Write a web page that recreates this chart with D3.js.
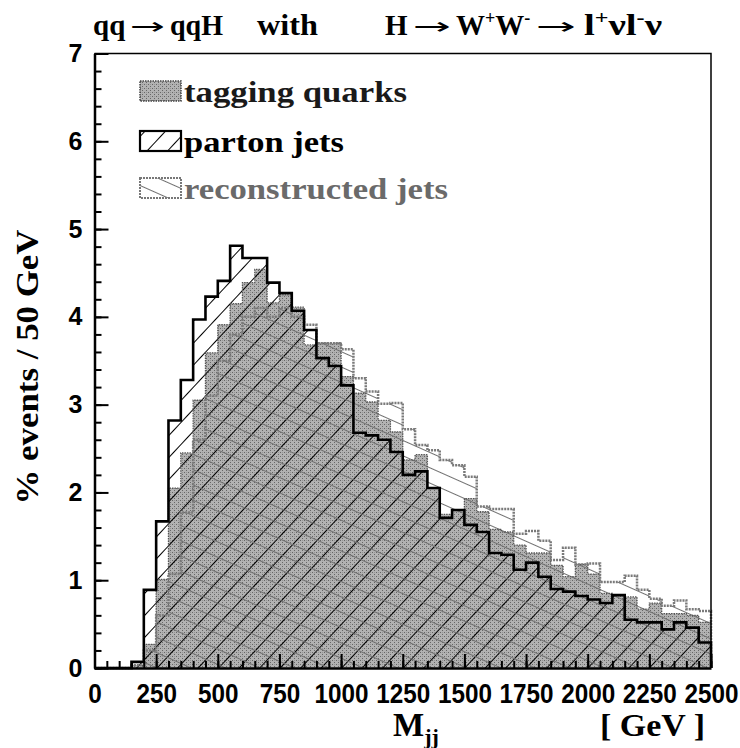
<!DOCTYPE html>
<html><head><meta charset="utf-8">
<script src="https://cdn.jsdelivr.net/npm/d3@7/dist/d3.min.js"></script>
<style>body{margin:0;background:#fff} svg{display:block}</style>
</head><body>
<svg id="c" width="740" height="748"></svg>
<script>
// ---- data (percent of events per 50 GeV bin) ----
const binLow = [0,50,100,150,200,250,300,350,400,450,500,550,600,650,700,750,800,850,900,950,
  1000,1050,1100,1150,1200,1250,1300,1350,1400,1450,1500,1550,1600,1650,1700,1750,1800,1850,1900,1950,
  2000,2050,2100,2150,2200,2250,2300,2350,2400,2450];
const binWidth = 50;
const tagging = [0,0,0,0.03,0.27,1.01,2.05,2.45,3.05,3.59,3.91,4.15,4.39,4.54,4.16,4.25,4.11,3.68,3.70,3.70,
  3.32,3.13,3.03,2.82,2.69,2.37,2.43,2.05,1.75,1.80,1.93,1.78,1.58,1.55,1.40,1.31,1.31,1.17,1.04,1.18,
  1.07,0.85,0.83,0.81,0.67,0.74,0.62,0.62,0.60,0.52];
const parton = [0,0,0,0.07,0.89,1.67,2.82,3.28,3.97,4.23,4.41,4.81,4.67,4.67,4.39,4.27,4.07,3.85,3.53,3.44,
  3.22,2.68,2.65,2.60,2.46,2.20,2.24,2.05,1.71,1.80,1.63,1.55,1.31,1.29,1.12,1.20,1.04,0.90,0.87,0.82,
  0.78,0.74,0.83,0.55,0.52,0.52,0.44,0.52,0.46,0.29];
const reco = [0,0,0,0.03,0.20,0.60,1.07,1.77,2.60,3.10,3.50,3.80,4.00,4.10,4.00,4.10,4.00,3.91,3.70,3.70,
  3.63,3.30,3.15,3.01,3.02,2.72,2.54,2.48,2.37,2.31,2.18,1.84,1.81,1.81,1.53,1.56,1.45,1.23,1.37,1.18,
  1.19,0.98,0.98,1.05,0.89,0.79,0.71,0.77,0.67,0.65];
const xMajor = [0,250,500,750,1000,1250,1500,1750,2000,2250,2500];
const yMajor = [0,1,2,3,4,5,6,7];
const legendLabels = ["tagging quarks","parton jets","reconstructed jets"];

// ---- layout ----
const svg = d3.select("#c");
const X0 = 94.5, X1 = 711, YT = 53.5, YB = 668;
const x = d3.scaleLinear().domain([0,2500]).range([X0,X1]);
const y = d3.scaleLinear().domain([0,7]).range([YB,YT]);

const defs = svg.append("defs");
// stipple gray
const pd = defs.append("pattern").attr("id","dots").attr("patternUnits","userSpaceOnUse")
  .attr("width",4).attr("height",4);
pd.append("rect").attr("width",4).attr("height",4).attr("fill","#b2b2b2");
pd.append("rect").attr("x",0).attr("y",0).attr("width",1).attr("height",1).attr("fill","#666");
pd.append("rect").attr("x",2).attr("y",2).attr("width",1).attr("height",1).attr("fill","#666");
pd.append("rect").attr("x",2).attr("y",0).attr("width",1).attr("height",1).attr("fill","#959595");
// parton hatch  /
const ph = defs.append("pattern").attr("id","hatchP").attr("patternUnits","userSpaceOnUse")
  .attr("width",15).attr("height",15).attr("patternTransform","rotate(-47)");
ph.append("line").attr("x1",0).attr("x2",15).attr("y1",0.5).attr("y2",0.5)
  .attr("stroke","#000").attr("stroke-width",1);
// reco hatch  \ (shallow)
const rh = defs.append("pattern").attr("id","hatchR").attr("patternUnits","userSpaceOnUse")
  .attr("width",14).attr("height",14).attr("patternTransform","rotate(24)");
rh.append("line").attr("x1",0).attr("x2",14).attr("y1",0.5).attr("y2",0.5)
  .attr("stroke","#707070").attr("stroke-width",1);

function stepPoints(vals){
  const pts = [[0,0]];
  vals.forEach((v,i)=>{ pts.push([binLow[i],v]); pts.push([binLow[i]+binWidth,v]); });
  pts.push([2500,0]);
  return pts;
}
const area = d3.area().x(d=>x(d[0])).y0(y(0)).y1(d=>y(d[1]));
const line = d3.line().x(d=>x(d[0])).y(d=>y(d[1]));

const g = svg.append("g");
g.append("path").attr("d",area(stepPoints(tagging))).attr("fill","url(#dots)");
g.append("path").attr("d",area(stepPoints(parton))).attr("fill","url(#hatchP)");
g.append("path").attr("d",area(stepPoints(reco))).attr("fill","url(#hatchR)");
g.append("path").attr("d",line(stepPoints(tagging))).attr("fill","none")
  .attr("stroke","#555").attr("stroke-width",1.3).attr("stroke-dasharray","1.5,1");
g.append("path").attr("d",line(stepPoints(reco))).attr("fill","none")
  .attr("stroke","#7a7a7a").attr("stroke-width",2.5).attr("stroke-dasharray","2,1");
g.append("path").attr("d",line(stepPoints(parton))).attr("fill","none")
  .attr("stroke","#000").attr("stroke-width",2.6);

// frame
svg.append("path").attr("d",`M${X0},${YT}H${X1}V${YB}`).attr("fill","none")
  .attr("stroke","#000").attr("stroke-width",1.5);

// axes
const xMinor = binLow.concat([2500]);
svg.append("g").attr("transform",`translate(0,${YB})`)
  .call(d3.axisBottom(x).tickValues(xMinor).tickSizeInner(-7).tickSizeOuter(0).tickFormat(""))
  .call(a=>{a.select(".domain").remove(); a.selectAll("line").attr("stroke-width",2);});
svg.append("g").attr("transform",`translate(0,${YB})`)
  .call(d3.axisBottom(x).tickValues(xMajor).tickSizeInner(-14).tickSizeOuter(0).tickPadding(16).tickFormat(d3.format("d")))
  .call(a=>{
    a.select(".domain").attr("stroke-width",2.5);
    a.selectAll("line").attr("stroke-width",2);
    a.selectAll("text").attr("font-family","Liberation Sans, Arial, sans-serif")
      .attr("font-weight","bold").attr("font-size",27).attr("fill","#000")
      .attr("transform","scale(0.9,1)");
  });
const yMinor = d3.range(0,7.001,0.2);
svg.append("g").attr("transform",`translate(${X0},0)`)
  .call(d3.axisLeft(y).tickValues(yMinor).tickSizeInner(-7).tickSizeOuter(0).tickFormat(""))
  .call(a=>{a.select(".domain").remove(); a.selectAll("line").attr("stroke-width",2);});
svg.append("g").attr("transform",`translate(${X0},0)`)
  .call(d3.axisLeft(y).tickValues(yMajor).tickSizeInner(-14).tickSizeOuter(0).tickPadding(12).tickFormat(d3.format("d")))
  .call(a=>{
    a.select(".domain").attr("stroke-width",2.5);
    a.selectAll("line").attr("stroke-width",2);
    a.selectAll("text").attr("font-family","Liberation Sans, Arial, sans-serif")
      .attr("font-weight","bold").attr("font-size",25).attr("fill","#000");
  });

// legend
const serif = "Liberation Serif, Times New Roman, serif";
const lg = svg.append("g");
const rows = [{y:81, fill:"url(#dots)", stroke:"#444", dash:"1.5,1", sw:1.5, col:"#1a1a1a", w:223},
              {y:131, fill:"url(#hatchP)", stroke:"#000", dash:null, sw:2.2, col:"#000", w:160},
              {y:178, fill:"url(#hatchR)", stroke:"#777", dash:"2,1", sw:2, col:"#6a6a6a", w:264}];
rows.forEach((r,i)=>{
  lg.append("rect").attr("x",140).attr("y",r.y).attr("width",41).attr("height",20)
    .attr("fill","#fff");
  lg.append("rect").attr("x",140).attr("y",r.y).attr("width",41).attr("height",20)
    .attr("fill",r.fill).attr("stroke",r.stroke).attr("stroke-width",r.sw)
    .attr("stroke-dasharray",r.dash);
  lg.append("text").attr("x",184).attr("y",r.y+21).text(legendLabels[i])
    .attr("font-family",serif).attr("font-weight","bold").attr("font-size",30)
    .attr("fill",r.col).attr("textLength",r.w).attr("lengthAdjust","spacingAndGlyphs");
});

// title (pieces placed along the line)
const TY = 35;
function tt(xp, str, len){
  const e = svg.append("text").attr("x",xp).attr("y",TY).attr("font-family",serif)
    .attr("font-weight","bold").attr("font-size",29).attr("fill","#000").text(str);
  if(len) e.attr("textLength",len).attr("lengthAdjust","spacingAndGlyphs");
  return e;
}
function arrow(xp, len){
  return svg.append("text").attr("x",xp).attr("y",TY-1).attr("font-family","DejaVu Sans, sans-serif")
    .attr("font-size",23).attr("fill","#000").attr("textLength",len)
    .attr("lengthAdjust","spacingAndGlyphs").text("\u2192");
}
tt(93,"qq");
arrow(130,35);
tt(170,"qqH",53);
tt(257,"with",61);
tt(385,"H");
arrow(413,38);
const ww = svg.append("text").attr("x",456).attr("y",TY).attr("font-family",serif)
  .attr("font-weight","bold").attr("font-size",29).attr("fill","#000");
ww.append("tspan").text("W");
ww.append("tspan").attr("dy",-11).attr("font-size",18).text("+");
ww.append("tspan").attr("dy",11).text("W");
ww.append("tspan").attr("dy",-11).attr("font-size",18).text("-");
arrow(536,40);
const ll = svg.append("text").attr("x",584).attr("y",TY).attr("font-family",serif)
  .attr("font-weight","bold").attr("font-size",29).attr("fill","#000")
  .attr("textLength",78).attr("lengthAdjust","spacingAndGlyphs");
ll.append("tspan").text("l");
ll.append("tspan").attr("dy",-11).attr("font-size",18).text("+");
ll.append("tspan").attr("dy",11).text("\u03bdl");
ll.append("tspan").attr("dy",-11).attr("font-size",18).text("-");
ll.append("tspan").attr("dy",11).text("\u03bd");

// axis titles
svg.append("text").attr("transform","translate(38,367) rotate(-90)").attr("text-anchor","middle")
  .attr("font-family",serif).attr("font-weight","bold").attr("font-size",31).attr("fill","#000")
  .attr("textLength",275).attr("lengthAdjust","spacingAndGlyphs")
  .text("% events / 50 GeV");
const mx = svg.append("text").attr("x",393).attr("y",736).attr("font-family",serif)
  .attr("font-weight","bold").attr("font-size",33).attr("fill","#000");
mx.append("tspan").text("M");
mx.append("tspan").attr("dy",8).attr("font-size",22).text("jj");
svg.append("text").attr("x",600).attr("y",736).attr("font-family",serif)
  .attr("font-weight","bold").attr("font-size",32).attr("fill","#000")
  .attr("textLength",105).attr("lengthAdjust","spacingAndGlyphs").text("[ GeV ]");
</script>
</body></html>
